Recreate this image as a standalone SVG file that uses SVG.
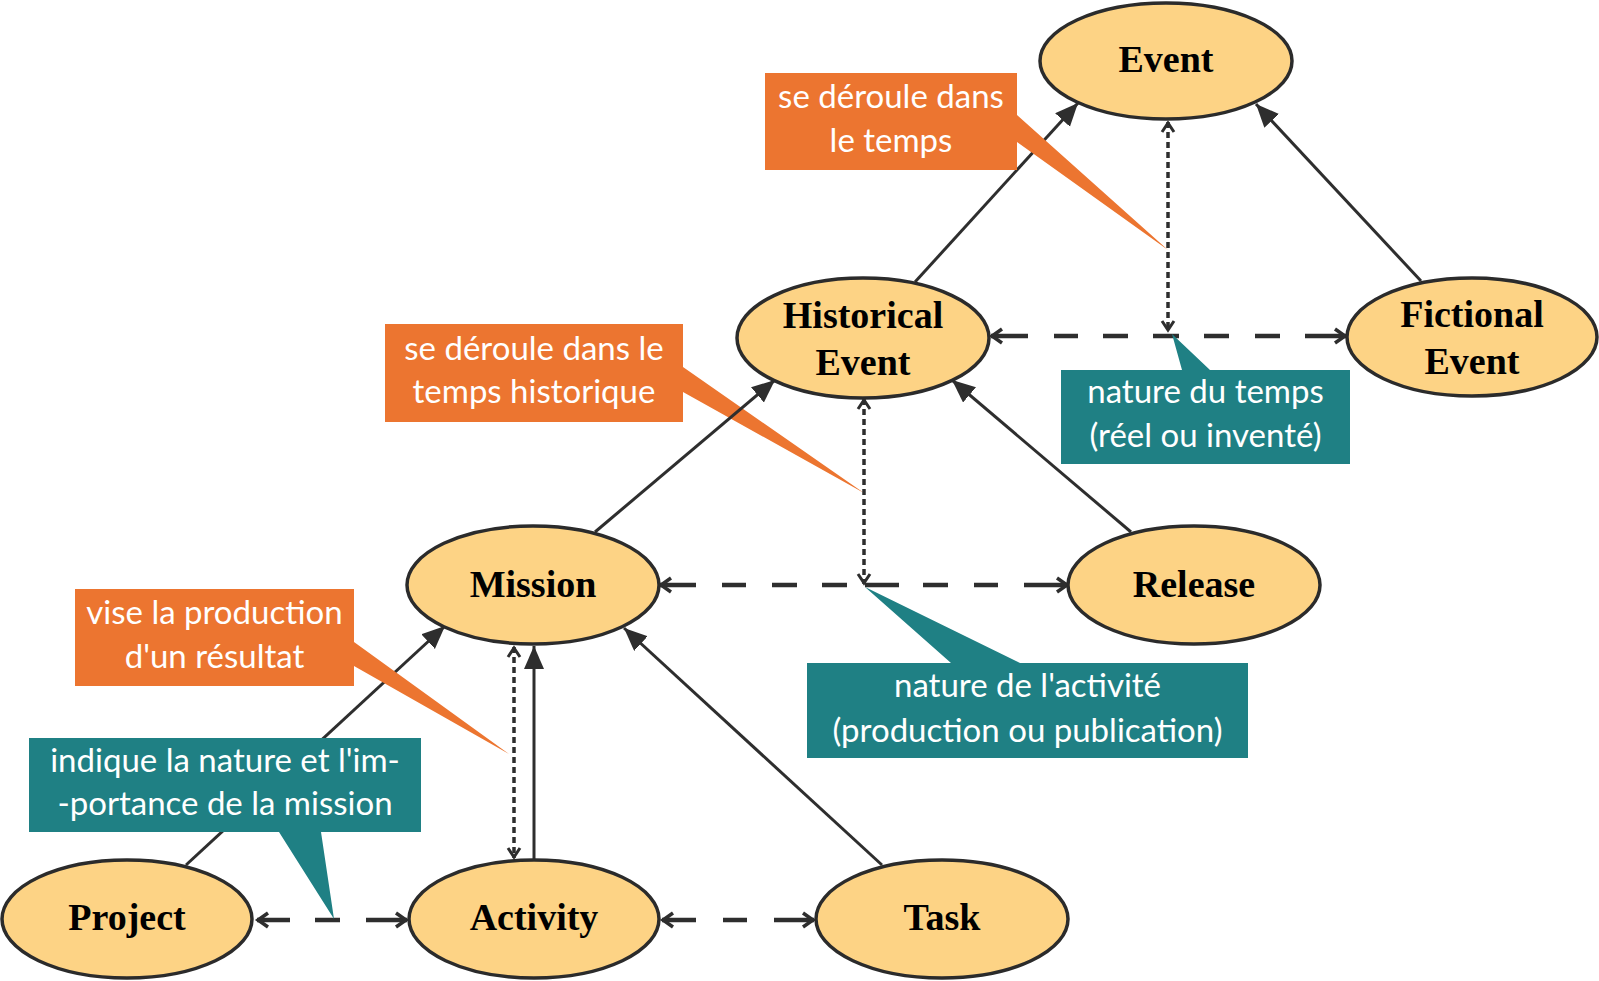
<svg xmlns="http://www.w3.org/2000/svg" width="1599" height="981" viewBox="0 0 1599 981">
<defs>
<style>
.node ellipse{fill:#FDD385;stroke:#2B2B2B;stroke-width:3.5}
.node text{font-family:"Liberation Serif","DejaVu Serif",serif;font-weight:bold;font-size:38px;fill:#000;text-anchor:middle}
.solid{stroke:#2E2E2E;stroke-width:3;fill:none;marker-end:url(#tri)}
.dash{stroke:#2E2E2E;stroke-width:4.5;fill:none;marker-start:url(#chev);marker-end:url(#chev)}
.dot{stroke:#2E2E2E;stroke-width:3.5;fill:none;stroke-dasharray:6 4;marker-start:url(#chevs);marker-end:url(#chevs)}
.orange{fill:#EC7530}
.teal{fill:#1F8084}
.call text{font-family:Lato,"Open Sans",sans-serif;font-size:33px;fill:#fff;text-anchor:middle}
</style>
<marker id="tri" markerUnits="userSpaceOnUse" markerWidth="26" markerHeight="22" refX="23" refY="10" orient="auto">
<path d="M0,0 L23,10 L0,20 z" fill="#2E2E2E"/>
</marker>
<marker id="chev" markerUnits="userSpaceOnUse" markerWidth="20" markerHeight="20" refX="14" refY="10" orient="auto-start-reverse">
<path d="M3,3 L13,10 L3,17" fill="none" stroke="#2E2E2E" stroke-width="3.5"/>
</marker>
<marker id="chevs" markerUnits="userSpaceOnUse" markerWidth="18" markerHeight="18" refX="12" refY="9" orient="auto-start-reverse">
<path d="M2,3 L11,9 L2,15" fill="none" stroke="#2E2E2E" stroke-width="3"/>
</marker>
</defs>
<rect width="1599" height="981" fill="#fff"/>

<g id="callout-temps-historique" class="call">
<path class="orange" d="M385,324 H683 V367 L864,493 L683,392 V422 H385 Z"/>
<text x="534" y="360">se déroule dans le</text>
<text x="534" y="403">temps historique</text>
</g>

<g id="connectors">
<path class="solid" d="M915,282 L1078,103"/>
<path class="solid" d="M1421,281 L1256,104"/>
<path class="solid" d="M595,532 L775,380"/>
<path class="solid" d="M1131,532 L952,380"/>
<path class="solid" d="M186,865 L445,626"/>
<path class="solid" d="M534,860 L534,646"/>
<path class="solid" d="M882,865 L624,628"/>
<path class="dash" d="M991,336 H1028 M1054,336 H1078 M1103,336 H1128 M1153,336 H1179 M1204,336 H1229 M1255,336 H1280 M1305,336 H1346"/>
<path class="dash" d="M660,585 H696 M722,585 H746 M772,585 H797 M822,585 H847 M865,585 H899 M923,585 H948 M974,585 H998 M1024,585 H1068"/>
<path class="dash" d="M257,920 H290 M315,920 H340 M366,920 H407"/>
<path class="dash" d="M662,920 H696 M723,920 H747 M774,920 H814"/>
<path class="dot" d="M1168,122 V331"/>
<path class="dot" d="M864,399 V584"/>
<path class="dot" d="M514,647 V858"/>
</g>

<g id="callout-temps" class="call">
<path class="orange" d="M765,73 H1017 V115 L1168,250 L1017,142 V170 H765 Z"/>
<text x="891" y="108">se déroule dans</text>
<text x="891" y="152">le temps</text>
</g>
<g id="callout-resultat" class="call">
<path class="orange" d="M75,589 H354 V642 L509,754 L354,666 V686 H75 Z"/>
<text x="214.5" y="624">vise la production</text>
<text x="214.5" y="668">d'un résultat</text>
</g>
<g id="callout-nature-temps" class="call">
<path class="teal" d="M1061,370 H1182 L1172,334 L1210,370 H1350 V464 H1061 Z"/>
<text x="1205.5" y="403">nature du temps</text>
<text x="1205.5" y="447">(réel ou inventé)</text>
</g>
<g id="callout-nature-activite" class="call">
<path class="teal" d="M807,663 H951 L865,587 L1020,663 H1248 V758 H807 Z"/>
<text x="1027.5" y="697">nature de l'activité</text>
<text x="1027.5" y="742">(production ou publication)</text>
</g>
<g id="callout-mission" class="call">
<path class="teal" d="M29,738 H421 V832 H321 L334,919 L279,832 H29 Z"/>
<text x="225" y="772">indique la nature et l'im-</text>
<text x="225" y="815">-portance de la mission</text>
</g>

<g id="node-event" class="node"><ellipse cx="1166" cy="61" rx="126" ry="58"/><text x="1166" y="72">Event</text></g>
<g id="node-historical-event" class="node"><ellipse cx="863" cy="338" rx="126" ry="60"/><text x="863" y="328">Historical</text><text x="863" y="375">Event</text></g>
<g id="node-fictional-event" class="node"><ellipse cx="1472" cy="337" rx="125" ry="59"/><text x="1472" y="327">Fictional</text><text x="1472" y="374">Event</text></g>
<g id="node-mission" class="node"><ellipse cx="533" cy="585" rx="126" ry="59"/><text x="533" y="597">Mission</text></g>
<g id="node-release" class="node"><ellipse cx="1194" cy="585" rx="126" ry="59"/><text x="1194" y="597">Release</text></g>
<g id="node-project" class="node"><ellipse cx="127" cy="919" rx="125" ry="59"/><text x="127" y="930">Project</text></g>
<g id="node-activity" class="node"><ellipse cx="534" cy="919" rx="125" ry="59"/><text x="534" y="930">Activity</text></g>
<g id="node-task" class="node"><ellipse cx="942" cy="919" rx="126" ry="59"/><text x="942" y="930">Task</text></g>
</svg>
